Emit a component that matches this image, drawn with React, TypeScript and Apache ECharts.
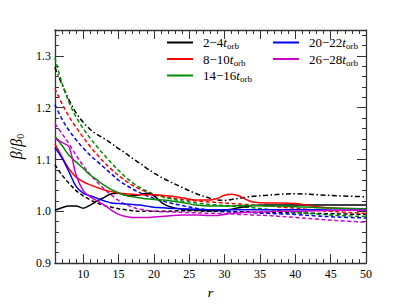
import React, { useEffect, useRef } from "react";
import * as echarts from "echarts";

const R = [6, 7, 8, 9, 10, 11, 12, 13, 14, 15, 16, 17, 18, 19, 20, 21, 22, 24, 26, 28, 29, 30, 31, 32, 33, 34, 36, 38, 40, 43, 46, 50];

const blackSolid = [1.002, 1.007, 1.010, 1.010, 1.006, 1.012, 1.020, 1.027, 1.034, 1.035, 1.031, 1.030, 1.032, 1.035, 1.030, 1.018, 1.010, 1.004, 1.002, 1.001, 1.001, 1.002, 1.004, 1.007, 1.009, 1.011, 1.012, 1.012, 1.012, 1.012, 1.012, 1.012];
const redSolid = [1.130, 1.105, 1.082, 1.066, 1.057, 1.051, 1.046, 1.041, 1.038, 1.035, 1.034, 1.033, 1.032, 1.032, 1.032, 1.031, 1.030, 1.026, 1.022, 1.022, 1.025, 1.031, 1.033, 1.030, 1.023, 1.018, 1.016, 1.016, 1.015, 1.009, 1.006, 1.005];
const greenSolid = [1.145, 1.127, 1.108, 1.095, 1.083, 1.070, 1.060, 1.050, 1.042, 1.036, 1.031, 1.028, 1.026, 1.024, 1.023, 1.022, 1.021, 1.017, 1.012, 1.010, 1.010, 1.010, 1.010, 1.011, 1.011, 1.011, 1.010, 1.010, 1.009, 1.007, 1.006, 1.005];
const blueSolid = [1.123, 1.103, 1.076, 1.048, 1.035, 1.030, 1.025, 1.020, 1.016, 1.015, 1.014, 1.013, 1.012, 1.010, 1.008, 1.007, 1.006, 1.005, 1.004, 1.003, 1.003, 1.003, 1.003, 1.003, 1.003, 1.003, 1.003, 1.003, 1.003, 1.003, 1.002, 1.002];
const magentaSolid = [1.140, 1.133, 1.124, 1.070, 1.040, 1.028, 1.020, 1.012, 1.002, 0.994, 0.990, 0.988, 0.988, 0.988, 0.989, 0.990, 0.991, 0.993, 0.993, 0.992, 0.992, 0.994, 0.996, 0.997, 0.998, 0.998, 0.999, 1.000, 1.000, 1.001, 1.002, 1.002];

const blackDashed = [1.090, 1.070, 1.054, 1.040, 1.030, 1.022, 1.016, 1.011, 1.008, 1.005, 1.003, 1.001, 1.000, 1.000, 1.000, 1.000, 1.000, 1.001, 1.001, 1.000, 1.000, 0.999, 0.999, 0.999, 0.999, 0.998, 0.998, 0.997, 0.997, 0.996, 0.995, 0.994];
const redDashed = [1.237, 1.208, 1.183, 1.162, 1.143, 1.125, 1.109, 1.094, 1.081, 1.069, 1.059, 1.050, 1.043, 1.037, 1.032, 1.029, 1.027, 1.023, 1.020, 1.018, 1.017, 1.016, 1.015, 1.014, 1.013, 1.012, 1.011, 1.008, 1.006, 1.002, 0.999, 0.996];
const greenDashed = [1.296, 1.248, 1.210, 1.182, 1.160, 1.141, 1.124, 1.108, 1.093, 1.079, 1.066, 1.055, 1.046, 1.039, 1.033, 1.029, 1.025, 1.020, 1.016, 1.013, 1.012, 1.011, 1.010, 1.009, 1.008, 1.007, 1.004, 1.001, 0.998, 0.995, 0.992, 0.990];
const blueDashed = [1.206, 1.178, 1.156, 1.138, 1.122, 1.108, 1.096, 1.084, 1.072, 1.060, 1.051, 1.043, 1.036, 1.030, 1.025, 1.021, 1.017, 1.011, 1.006, 1.002, 1.001, 1.000, 0.999, 0.998, 0.998, 0.997, 0.996, 0.995, 0.994, 0.991, 0.989, 0.987];
const magentaDashed = [1.169, 1.150, 1.130, 1.108, 1.088, 1.071, 1.056, 1.043, 1.031, 1.021, 1.013, 1.008, 1.004, 1.002, 1.000, 0.999, 0.999, 0.998, 0.997, 0.996, 0.996, 0.995, 0.995, 0.994, 0.994, 0.993, 0.992, 0.990, 0.988, 0.985, 0.982, 0.979];
const blackDashDot = [1.278, 1.245, 1.215, 1.190, 1.172, 1.158, 1.148, 1.140, 1.131, 1.121, 1.112, 1.102, 1.093, 1.083, 1.074, 1.066, 1.059, 1.046, 1.034, 1.025, 1.022, 1.021, 1.023, 1.025, 1.027, 1.029, 1.031, 1.033, 1.034, 1.032, 1.030, 1.028];

const legendNames = ["2−4", "8−10", "14−16", "20−22", "26−28"];
const xMajor = [10, 15, 20, 25, 30, 35, 40, 45, 50];
const xMinor = [7, 8, 9, 11, 12, 13, 14, 16, 17, 18, 19, 21, 22, 23, 24, 26, 27, 28, 29, 31, 32, 33, 34, 36, 37, 38, 39, 41, 42, 43, 44, 46, 47, 48, 49];
const yMajor = [0.9, 1.0, 1.1, 1.2, 1.3];
const yMinor = [0.92, 0.94, 0.96, 0.98, 1.02, 1.04, 1.06, 1.08, 1.12, 1.14, 1.16, 1.18, 1.22, 1.24, 1.26, 1.28, 1.32, 1.34];

const COLORS = { black: "#000000", red: "#ff0000", green: "#008c00", blue: "#0000ff", magenta: "#cc00cc" };
const FONT = "Liberation Serif";
const AXIS_COLOR = "#333333";

function pairs(vals: number[]) {
  return R.map((r, i) => [r, vals[i]]);
}

export default function App() {
  const ref = useRef<HTMLDivElement>(null);
  useEffect(() => {
    if (!ref.current) return;
    const chart = echarts.init(ref.current, null, { renderer: "svg" });
    const solid = (name: string, color: string, vals: number[]) => ({
      name, type: "line", data: pairs(vals), symbol: "none", smooth: 0.35,
      lineStyle: { color, width: 1.5, type: "solid" }, itemStyle: { color }, z: 3,
    });
    const dashed = (name: string, color: string, vals: number[], dash: number[]) => ({
      name, type: "line", data: pairs(vals), symbol: "none", smooth: 0.35,
      lineStyle: { color, width: 1.5, type: dash }, itemStyle: { color }, z: 2,
    });
    const xBase = { type: "value", min: 6, max: 50, gridIndex: 0, splitLine: { show: false } };
    const yBase = { type: "value", min: 0.9, max: 1.35, gridIndex: 0, splitLine: { show: false } };
    const axLine = { show: true, lineStyle: { color: AXIS_COLOR, width: 1.3 } };
    const rich = {
      n: { fontFamily: FONT, fontSize: 13, color: "#000" },
      t: { fontFamily: FONT, fontSize: 13, fontStyle: "italic", color: "#000" },
      s: { fontFamily: FONT, fontSize: 9, color: "#000", padding: [7, 0, 0, 0] },
    };
    const legendCommon = {
      orient: "vertical", itemWidth: 26, itemHeight: 10, itemGap: 2,
      icon: "path://M0,0 L26,0 L26,2 L0,2 Z",
      formatter: (name: string) => `{n|${name}}{t|t}{s|orb}`,
      textStyle: { fontFamily: FONT, rich, padding: [0, 0, 0, 5] },
    };
    chart.setOption({
      animation: false,
      textStyle: { fontFamily: FONT },
      grid: { left: 51, top: 30, right: 41, bottom: 30, containLabel: false },
      legend: [
        { ...legendCommon, data: legendNames.slice(0, 3), left: 162, top: 31 },
        { ...legendCommon, data: legendNames.slice(3), left: 268, top: 31 },
      ],
      xAxis: [
        {
          ...xBase, position: "bottom", axisLine: axLine,
          axisTick: { show: true, inside: true, length: 9, customValues: xMajor, lineStyle: { color: AXIS_COLOR } },
          axisLabel: { show: true, customValues: xMajor, color: "#000", fontFamily: FONT, fontSize: 12, margin: 5 },
          name: "r", nameLocation: "middle", nameGap: 17,
          nameTextStyle: { fontFamily: FONT, fontStyle: "italic", fontSize: 15, color: "#000" },
        },
        {
          ...xBase, position: "bottom", axisLine: { show: false },
          axisTick: { show: true, inside: true, length: 4, customValues: xMinor, lineStyle: { color: AXIS_COLOR } },
          axisLabel: { show: false },
        },
        {
          ...xBase, position: "top", axisLine: axLine,
          axisTick: { show: true, inside: true, length: 9, customValues: xMajor, lineStyle: { color: AXIS_COLOR } },
          axisLabel: { show: false },
        },
        {
          ...xBase, position: "top", axisLine: { show: false },
          axisTick: { show: true, inside: true, length: 4, customValues: xMinor, lineStyle: { color: AXIS_COLOR } },
          axisLabel: { show: false },
        },
      ],
      yAxis: [
        {
          ...yBase, position: "left", axisLine: axLine,
          axisTick: { show: true, inside: true, length: 9, customValues: yMajor, lineStyle: { color: AXIS_COLOR } },
          axisLabel: { show: true, customValues: yMajor, color: "#000", fontFamily: FONT, fontSize: 12, margin: 4, formatter: (v: number) => v.toFixed(1) },
          name: "{b|β}{n|/}{b|β}{s|0}", nameLocation: "middle", nameGap: 27, nameRotate: 90,
          nameTextStyle: {
            fontFamily: FONT,
            rich: {
              b: { fontFamily: FONT, fontStyle: "italic", fontSize: 16, color: "#000" },
              n: { fontFamily: FONT, fontSize: 16, color: "#000" },
              s: { fontFamily: FONT, fontSize: 10, color: "#000", padding: [8, 0, 0, 0] },
            },
          },
        },
        {
          ...yBase, position: "left", axisLine: { show: false },
          axisTick: { show: true, inside: true, length: 4, customValues: yMinor, lineStyle: { color: AXIS_COLOR } },
          axisLabel: { show: false },
        },
        {
          ...yBase, position: "right", axisLine: axLine,
          axisTick: { show: true, inside: true, length: 9, customValues: yMajor, lineStyle: { color: AXIS_COLOR } },
          axisLabel: { show: false },
        },
        {
          ...yBase, position: "right", axisLine: { show: false },
          axisTick: { show: true, inside: true, length: 4, customValues: yMinor, lineStyle: { color: AXIS_COLOR } },
          axisLabel: { show: false },
        },
      ],
      series: [
        dashed("blackDashDot", COLORS.black, blackDashDot, [5, 2.5, 1.5, 2.5]),
        dashed("blackDashed", COLORS.black, blackDashed, [4, 2.5]),
        dashed("redDashed", COLORS.red, redDashed, [4, 2.5]),
        dashed("greenDashed", COLORS.green, greenDashed, [4, 2.5]),
        dashed("blueDashed", COLORS.blue, blueDashed, [4, 2.5]),
        dashed("magentaDashed", COLORS.magenta, magentaDashed, [4, 2.5]),
        solid(legendNames[0], COLORS.black, blackSolid),
        solid(legendNames[1], COLORS.red, redSolid),
        solid(legendNames[2], COLORS.green, greenSolid),
        solid(legendNames[3], COLORS.blue, blueSolid),
        solid(legendNames[4], COLORS.magenta, magentaSolid),
      ],
    });
    return () => chart.dispose();
  }, []);
  return <div ref={ref} style={{ width: 407, height: 305, margin: -8 }} />;
}
